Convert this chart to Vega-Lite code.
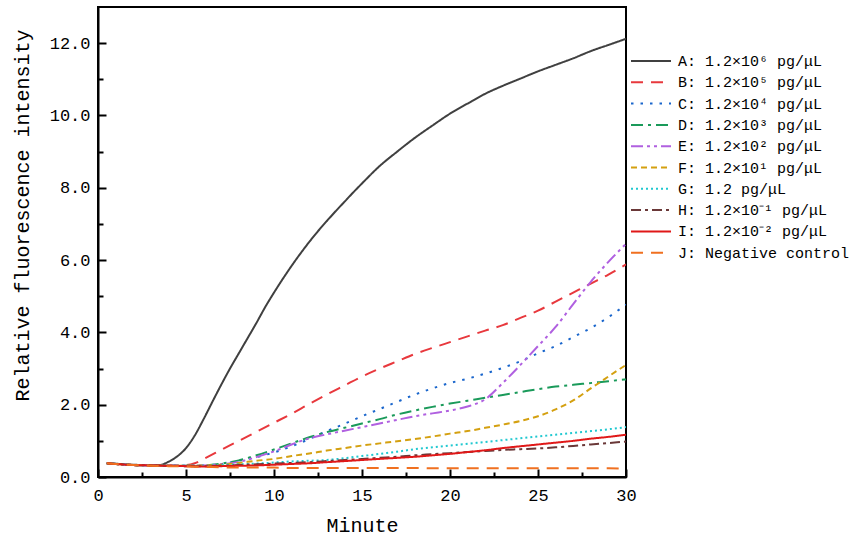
{
  "$schema": "https://vega.github.io/schema/vega-lite/v6.json",
  "autosize": {"type": "none"},
  "padding": {"left": 98, "top": 7, "right": 225, "bottom": 66},
  "width": 528,
  "height": 470,
  "background": "white",
  "config": {
    "view": {"stroke": "black", "strokeWidth": 2},
    "font": "Liberation Mono",
    "axis": {
      "domainColor": "black", "domainWidth": 2, "tickColor": "black", "tickWidth": 2,
      "labelFont": "Liberation Mono", "titleFont": "Liberation Mono",
      "labelColor": "black", "titleColor": "black", "grid": false,
      "labelFontSize": 17, "titleFontSize": 20, "titleFontWeight": "normal"
    },
    "legend": {"labelFont": "Liberation Mono", "labelFontSize": 15, "labelColor": "black"}
  },
  "data": {"values": [
    {"x":0.5,"A":0.38,"B":0.38,"C":0.38,"D":0.38,"E":0.38,"F":0.38,"G":0.38,"H":0.38,"I":0.38,"J":0.38},
    {"x":1,"A":0.37,"B":0.36,"C":0.36,"D":0.36,"E":0.36,"F":0.36,"G":0.36,"H":0.36,"I":0.36,"J":0.36},
    {"x":1.5,"A":0.35},
    {"x":2,"A":0.34,"B":0.33,"C":0.33,"D":0.33,"E":0.33,"F":0.33,"G":0.33,"H":0.33,"I":0.33,"J":0.33},
    {"x":2.5,"A":0.33},
    {"x":3,"A":0.32,"B":0.32,"C":0.32,"D":0.32,"E":0.32,"F":0.32,"G":0.32,"H":0.32,"I":0.32,"J":0.31},
    {"x":3.5,"A":0.33},
    {"x":4,"A":0.42,"B":0.32,"C":0.31,"D":0.31,"E":0.31,"F":0.31,"G":0.31,"H":0.31,"I":0.31,"J":0.30},
    {"x":4.5,"A":0.57},
    {"x":5,"A":0.8,"B":0.33,"C":0.31,"D":0.31,"E":0.31,"F":0.31,"G":0.31,"H":0.30,"I":0.30,"J":0.29},
    {"x":5.5,"A":1.15,"B":0.38},
    {"x":6,"A":1.6,"B":0.5,"C":0.32,"D":0.32,"E":0.32,"F":0.32,"G":0.31,"H":0.30,"I":0.29,"J":0.28},
    {"x":6.5,"A":2.08},
    {"x":7,"A":2.55,"B":0.75,"C":0.36,"D":0.37,"E":0.35,"F":0.34,"G":0.33,"H":0.31,"I":0.30,"J":0.27},
    {"x":7.5,"A":3.0},
    {"x":8,"A":3.42,"B":1.0,"C":0.45,"D":0.46,"E":0.42,"F":0.39,"G":0.35,"H":0.33,"I":0.31,"J":0.26},
    {"x":8.5,"A":3.84},
    {"x":9,"A":4.26,"B":1.25,"C":0.55,"D":0.60,"E":0.55,"F":0.45,"G":0.37,"H":0.35,"I":0.32,"J":0.26},
    {"x":9.5,"A":4.7},
    {"x":10,"A":5.1,"B":1.5,"C":0.68,"D":0.76,"E":0.71,"F":0.50,"G":0.40,"H":0.37,"I":0.34,"J":0.26},
    {"x":10.5,"A":5.48},
    {"x":11,"A":5.84},
    {"x":11,"B":1.75,"C":0.85,"D":0.93,"E":0.9,"F":0.58,"G":0.43,"H":0.39,"I":0.36,"J":0.25},
    {"x":11.5,"A":6.18},
    {"x":12,"A":6.5,"B":2.02,"C":1.05,"D":1.10,"E":1.07,"F":0.65,"G":0.45,"H":0.41,"I":0.38,"J":0.25},
    {"x":12.5,"A":6.8},
    {"x":13,"A":7.08,"B":2.28,"C":1.27,"D":1.24,"E":1.18,"F":0.73,"G":0.47,"H":0.44,"I":0.41,"J":0.25},
    {"x":13.5,"A":7.35},
    {"x":14,"A":7.61,"B":2.53,"C":1.47,"D":1.36,"E":1.28,"F":0.80,"G":0.52,"H":0.47,"I":0.44,"J":0.25},
    {"x":14.5,"A":7.87},
    {"x":15,"A":8.12,"B":2.78,"C":1.68,"D":1.48,"E":1.38,"F":0.87,"G":0.58,"H":0.50,"I":0.47,"J":0.25},
    {"x":16,"A":8.6,"B":3.0,"C":1.88,"D":1.60,"E":1.48,"F":0.93,"G":0.64,"H":0.53,"I":0.50,"J":0.25},
    {"x":17,"A":9.0,"B":3.2,"C":2.08,"D":1.73,"E":1.58,"F":0.99,"G":0.70,"H":0.56,"I":0.53,"J":0.25},
    {"x":18,"A":9.38,"B":3.4,"C":2.28,"D":1.84,"E":1.68,"F":1.05,"G":0.77,"H":0.60,"I":0.56,"J":0.25},
    {"x":19,"A":9.72,"B":3.57,"C":2.45,"D":1.94,"E":1.76,"F":1.12,"G":0.82,"H":0.63,"I":0.60,"J":0.24},
    {"x":20,"A":10.05,"B":3.73,"C":2.6,"D":2.03,"E":1.84,"F":1.2,"G":0.87,"H":0.66,"I":0.64,"J":0.24},
    {"x":21,"A":10.33,"B":3.89,"C":2.72,"D":2.11,"E":1.95,"F":1.27,"G":0.92,"H":0.69,"I":0.69,"J":0.24},
    {"x":22,"A":10.6,"B":4.05,"C":2.86,"D":2.19,"E":2.15,"F":1.36,"G":0.97,"H":0.72,"I":0.74,"J":0.24},
    {"x":23,"A":10.82,"B":4.2,"C":3.02,"D":2.27,"E":2.6,"F":1.45,"G":1.02,"H":0.75,"I":0.80,"J":0.24},
    {"x":24,"A":11.02,"B":4.4,"C":3.2,"D":2.35,"E":3.1,"F":1.55,"G":1.07,"H":0.77,"I":0.85,"J":0.24},
    {"x":25,"A":11.22,"B":4.6,"C":3.42,"D":2.43,"E":3.62,"F":1.68,"G":1.12,"H":0.79,"I":0.90,"J":0.24},
    {"x":26,"A":11.4,"B":4.85,"C":3.62,"D":2.5,"E":4.15,"F":1.87,"G":1.17,"H":0.82,"I":0.95,"J":0.24},
    {"x":27,"A":11.58,"B":5.1,"C":3.87,"D":2.55,"E":4.78,"F":2.12,"G":1.22,"H":0.86,"I":1.0,"J":0.24},
    {"x":28,"A":11.78,"B":5.35,"C":4.12,"D":2.6,"E":5.4,"F":2.45,"G":1.27,"H":0.90,"I":1.06,"J":0.24},
    {"x":29,"A":11.95,"B":5.6,"C":4.42,"D":2.65,"E":5.95,"F":2.78,"G":1.32,"H":0.94,"I":1.11,"J":0.24},
    {"x":30,"A":12.12,"B":5.88,"C":4.77,"D":2.7,"E":6.45,"F":3.1,"G":1.38,"H":0.98,"I":1.17,"J":0.23}
  ]},
  "transform": [
    {"fold": ["A","B","C","D","E","F","G","H","I","J"], "as": ["series","value"]},
    {"filter": "isValid(datum.value)"}
  ],
  "mark": {"type": "line", "interpolate": "monotone", "clip": true},
  "encoding": {
    "x": {"field": "x", "type": "quantitative",
      "scale": {"domain": [0, 30], "nice": false},
      "axis": {"values": [0,2.5,5,7.5,10,12.5,15,17.5,20,22.5,25,27.5,30],
        "labelExpr": "datum.value % 5 == 0 ? datum.label : ''",
        "tickSize": {"condition": {"test": "datum.value % 5 == 0", "value": -8}, "value": -5},
        "labelPadding": 18, "title": "Minute", "titlePadding": 12, "labelFlush": false}},
    "y": {"field": "value", "type": "quantitative",
      "scale": {"domain": [0, 13], "nice": false},
      "axis": {"values": [0,1,2,3,4,5,6,7,8,9,10,11,12],
        "labelExpr": "datum.value % 2 == 0 ? format(datum.value, '.1f') : ''",
        "tickSize": {"condition": {"test": "datum.value % 2 == 0", "value": -8}, "value": -5},
        "labelPadding": 16,
        "title": "Relative fluorescence intensity", "titleY": 208, "titleX": -76, "titleAlign": "center", "titleBaseline": "middle", "titleAngle": -90}},
    "color": {"field": "series", "type": "nominal",
      "scale": {"domain": ["A","B","C","D","E","F","G","H","I","J"],
        "range": ["#404040","#e8383d","#1a66cc","#1a9a5a","#b060e0","#d4a010","#20c8d0","#6a3838","#e01818","#f07020"]},
      "legend": {"title": null, "orient": "none", "legendX": 542, "legendY": 43, "padding": 0, "symbolType": "M-2,0H2", "symbolSize": 400, "symbolStrokeWidth": 2.2, "rowPadding": 2.3, "labelOffset": 16, "labelLimit": 400,
        "labelExpr": "{'A':'A: 1.2×10⁶ pg/μL','B':'B: 1.2×10⁵ pg/μL','C':'C: 1.2×10⁴ pg/μL','D':'D: 1.2×10³ pg/μL','E':'E: 1.2×10² pg/μL','F':'F: 1.2×10¹ pg/μL','G':'G: 1.2 pg/μL','H':'H: 1.2×10⁻¹ pg/μL','I':'I: 1.2×10⁻² pg/μL','J':'J: Negative control'}[datum.label]"}},
    "strokeDash": {"field": "series", "type": "nominal",
      "scale": {"domain": ["A","B","C","D","E","F","G","H","I","J"],
        "range": [[1,0],[12,8],[2.5,7],[12,5,3,5],[12,4,3,4,3,4],[6,4],[2,3],[10,4,3,4],[1,0],[12,8]]},
      "legend": {"title": null, "orient": "none", "legendX": 542, "legendY": 43, "padding": 0, "symbolType": "M-2,0H2", "symbolSize": 400, "symbolStrokeWidth": 2.2, "rowPadding": 2.3, "labelOffset": 16, "labelLimit": 400,
        "labelExpr": "{'A':'A: 1.2×10⁶ pg/μL','B':'B: 1.2×10⁵ pg/μL','C':'C: 1.2×10⁴ pg/μL','D':'D: 1.2×10³ pg/μL','E':'E: 1.2×10² pg/μL','F':'F: 1.2×10¹ pg/μL','G':'G: 1.2 pg/μL','H':'H: 1.2×10⁻¹ pg/μL','I':'I: 1.2×10⁻² pg/μL','J':'J: Negative control'}[datum.label]"}},
    "strokeWidth": {"field": "series", "type": "nominal",
      "scale": {"domain": ["A","B","C","D","E","F","G","H","I","J"], "range": [2,2,2.4,2.2,2.2,2.2,2.2,2,2.8,2.2]},
      "legend": null}
  }
}
